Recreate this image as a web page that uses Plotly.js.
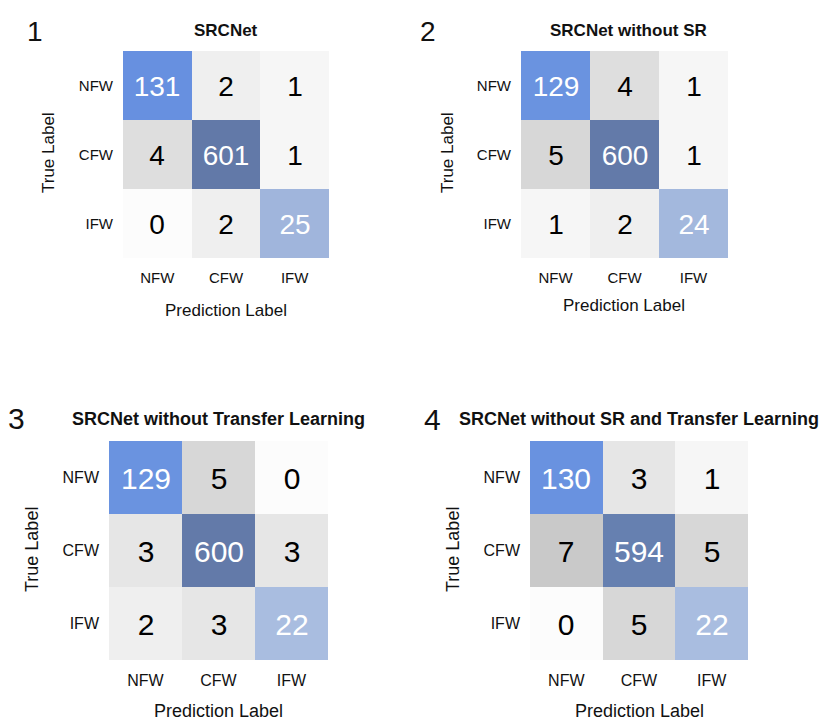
<!DOCTYPE html>
<html>
<head>
<meta charset="utf-8">
<script src="https://cdn.plot.ly/plotly-3.0.1.min.js"></script>
<style>
  html, body { margin: 0; padding: 0; background: #ffffff; }
  #chart { width: 822px; height: 722px; }
</style>
</head>
<body>
<div id="chart"></div>
<script>
// ---- data ----
const classLabels = ['NFW', 'CFW', 'IFW'];
const panelNumbers = ['1', '2', '3', '4'];
const panelTitles = [
  'SRCNet',
  'SRCNet without SR',
  'SRCNet without Transfer Learning',
  'SRCNet without SR and Transfer Learning'
];
const xAxisTitle = 'Prediction Label';
const yAxisTitle = 'True Label';
// rows = true label, columns = prediction label
const confSRCNet = [
  [131, 2, 1],
  [4, 601, 1],
  [0, 2, 25]
];
const confNoSR = [
  [129, 4, 1],
  [5, 600, 1],
  [1, 2, 24]
];
const confNoTL = [
  [129, 5, 0],
  [3, 600, 3],
  [2, 3, 22]
];
const confNoSRTL = [
  [130, 3, 1],
  [7, 594, 5],
  [0, 5, 22]
];
const matrices = [confSRCNet, confNoSR, confNoTL, confNoSRTL];

// ---- styling / geometry ----
const W = 822, H = 722;
const boxes = [ // pixel boxes of heatmap cells [x0,x1,y0,y1]
  [123, 329, 51, 258],
  [521, 728, 51, 258],
  [109, 328, 441, 660],
  [530, 748, 441, 660]
];
const styles = [
  {cell: 28, tick: 15, axTitle: 17, title: 17, num: 28},
  {cell: 28, tick: 15, axTitle: 17, title: 17, num: 28},
  {cell: 30, tick: 16, axTitle: 18, title: 18, num: 30},
  {cell: 30, tick: 16, axTitle: 18, title: 18, num: 30}
];
const ZMAX = 700;
const colorscale = [
  [0, '#fcfcfc'],
  [1 / ZMAX, '#f6f6f6'],
  [2 / ZMAX, '#efefef'],
  [3 / ZMAX, '#e6e6e6'],
  [4 / ZMAX, '#dedede'],
  [5 / ZMAX, '#d7d7d7'],
  [7 / ZMAX, '#c9c9c9'],
  [15 / ZMAX, '#b0c2e2'],
  [22 / ZMAX, '#a9bde0'],
  [25 / ZMAX, '#a0b5dc'],
  [129 / ZMAX, '#6a93e0'],
  [131 / ZMAX, '#6790e0'],
  [594 / ZMAX, '#6680b0'],
  [601 / ZMAX, '#6279a8'],
  [1, '#6279a8']
];
const FONT = 'Liberation Sans, Arial, sans-serif';

const fx = x => x / W;
const fy = y => 1 - y / H;

const traces = [];
const layout = {
  width: W, height: H,
  margin: {l: 0, r: 0, t: 0, b: 0},
  paper_bgcolor: '#ffffff',
  plot_bgcolor: '#ffffff',
  showlegend: false,
  font: {family: FONT, color: '#000000'},
  annotations: []
};

matrices.forEach((m, i) => {
  const n = i === 0 ? '' : String(i + 1);
  const xa = 'x' + n, ya = 'y' + n;
  const st = styles[i];
  const diag = m.map((row, r) => row.map((v, c) => (r === c ? v : null)));
  const off = m.map((row, r) => row.map((v, c) => (r !== c ? v : null)));
  const common = {
    type: 'heatmap',
    x: classLabels, y: classLabels,
    xaxis: xa, yaxis: ya,
    colorscale: colorscale, zmin: 0, zmax: ZMAX,
    showscale: false,
    texttemplate: '%{z}',
    hoverinfo: 'skip',
    xgap: 0, ygap: 0
  };
  traces.push(Object.assign({}, common, {
    z: off,
    textfont: {family: FONT, size: st.cell, color: '#000000'}
  }));
  traces.push(Object.assign({}, common, {
    z: diag,
    textfont: {family: FONT, size: st.cell, color: '#ffffff'}
  }));

  const b = boxes[i];
  layout['xaxis' + n] = {
    domain: [fx(b[0]), fx(b[1])],
    anchor: ya,
    showgrid: false, zeroline: false, showline: false, ticks: '',
    tickfont: {family: FONT, size: st.tick, color: '#111111'},
    ticklabelstandoff: 9,
    fixedrange: true
  };
  layout['yaxis' + n] = {
    domain: [fy(b[3]), fy(b[2])],
    anchor: xa,
    autorange: 'reversed',
    showgrid: false, zeroline: false, showline: false, ticks: '',
    tickfont: {family: FONT, size: st.tick, color: '#111111'},
    ticklabelstandoff: 9,
    fixedrange: true
  };
});

// text annotations (panel numbers, titles, axis titles)
const numPos = [[35, 31], [428, 31], [16, 418], [432, 419]];
const titlePos = [[226, 30], [628, 30], [218, 419], [639, 419]];
const xTitlePos = [[226, 310], [624, 305], [218, 711], [639, 711]];
const yTitlePos = [[49, 153], [448, 153], [32, 550], [453, 550]];

for (let i = 0; i < 4; i++) {
  const st = styles[i];
  layout.annotations.push({
    xref: 'paper', yref: 'paper', x: fx(numPos[i][0]), y: fy(numPos[i][1]),
    xanchor: 'center', yanchor: 'middle', showarrow: false,
    text: panelNumbers[i], font: {family: FONT, size: st.num, color: '#111111'}
  });
  layout.annotations.push({
    xref: 'paper', yref: 'paper', x: fx(titlePos[i][0]), y: fy(titlePos[i][1]),
    xanchor: 'center', yanchor: 'middle', showarrow: false,
    text: '<b>' + panelTitles[i] + '</b>',
    font: {family: FONT, size: st.title, color: '#111111'}
  });
  layout.annotations.push({
    xref: 'paper', yref: 'paper', x: fx(xTitlePos[i][0]), y: fy(xTitlePos[i][1]),
    xanchor: 'center', yanchor: 'middle', showarrow: false,
    text: xAxisTitle, font: {family: FONT, size: st.axTitle, color: '#111111'}
  });
  layout.annotations.push({
    xref: 'paper', yref: 'paper', x: fx(yTitlePos[i][0]), y: fy(yTitlePos[i][1]),
    xanchor: 'center', yanchor: 'middle', showarrow: false, textangle: -90,
    text: yAxisTitle, font: {family: FONT, size: st.axTitle, color: '#111111'}
  });
}

Plotly.newPlot('chart', traces, layout, {displayModeBar: false, staticPlot: true});
</script>
</body>
</html>
